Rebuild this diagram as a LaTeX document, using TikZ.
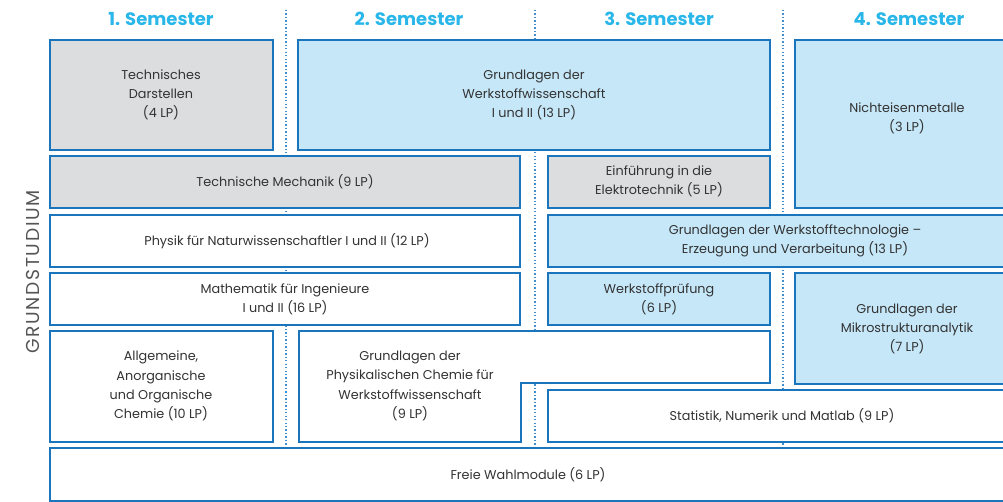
\documentclass[tikz,border=0pt]{standalone}
\usepackage{fontspec}
\setmainfont{Poppins}
\usepackage{xcolor}
\definecolor{rahmen}{HTML}{1B75BC}
\definecolor{blaufill}{HTML}{C6E7F8}
\definecolor{graufill}{HTML}{DCDDDF}
\definecolor{kopf}{HTML}{29B6E8}
\definecolor{punkt}{HTML}{3E8FD1}
\definecolor{schrift}{HTML}{333333}
\definecolor{seite}{HTML}{555555}
\tikzset{
    modul/.style={
        draw=rahmen,
        line width=0.9pt
    },
    grau/.style={modul, fill=graufill},
    blau/.style={modul, fill=blaufill},
    weiss/.style={modul, fill=white},
    txt/.style={
        align=center,
        text=schrift,
        inner sep=0pt,
        font=\fontsize{9.6}{14.4}\selectfont
    },
    semester/.style={
        text=kopf,
        font=\bfseries\fontsize{13.5}{16}\selectfont
    },
    trenner/.style={
        draw=punkt,
        line width=0.8pt,
        dash pattern=on 1pt off 1.6pt
    }
}

\begin{document}
\begin{tikzpicture}[x=0.75pt,y=-0.75pt]
  \clip (0,0) rectangle (1003,502);

  % Semester-Trennlinien
  \foreach \x in {286,535,783}
    \draw[trenner] (\x,10) -- (\x,502);

  % Kopfzeile
  \node[semester] (s1) at (161,19) {1. Semester};
  \node[semester] (s2) at (409,19) {2. Semester};
  \node[semester] (s3) at (659,19) {3. Semester};
  \node[semester] (s4) at (909,19) {4. Semester};

  \node[rotate=90, text=seite, font=\addfontfeatures{LetterSpace=9}\fontsize{14}{16}\selectfont]
    (gs) at (33,272) {GRUNDSTUDIUM};

  % Zeile 1
  \draw[grau] (50,40) rectangle (273,150);
  \node[txt] (td) at (161,95) {Technisches\\Darstellen\\(4 LP)};
  \draw[blau] (298,40) rectangle (770,150);
  \node[txt] (gw) at (534,95) {Grundlagen der\\Werkstoffwissenschaft\\I und II (13 LP)};
  \draw[blau] (795,40) rectangle (1041,208);
  \node[txt] (nm) at (907,118) {Nichteisenmetalle\\(3 LP)};

  % Zeile 2
  \draw[grau] (50,156) rectangle (520,208);
  \node[txt] (tm) at (285,182) {Technische Mechanik (9 LP)};
  \draw[grau] (548,156) rectangle (770,208);
  \node[txt] (et) at (659,181) {Einführung in die\\Elektrotechnik (5 LP)};

  % Zeile 3
  \draw[weiss] (50,215) rectangle (520,267);
  \node[txt] (ph) at (287,241) {Physik für Naturwissenschaftler I und II (12 LP)};
  \draw[blau] (548,215) rectangle (1041,267);
  \node[txt] (wt) at (795,241) {Grundlagen der Werkstofftechnologie --\\Erzeugung und Verarbeitung (13 LP)};

  % Zeile 4
  \draw[weiss] (50,273) rectangle (520,325);
  \node[txt] (ma) at (285,299) {Mathematik für Ingenieure\\I und II (16 LP)};
  \draw[blau] (548,273) rectangle (770,325);
  \node[txt] (wp) at (659,299) {Werkstoffprüfung\\(6 LP)};
  \draw[blau] (795,273) rectangle (1041,384);
  \node[txt] (mk) at (907,329) {Grundlagen der\\Mikrostrukturanalytik\\(7 LP)};

  % Zeile 5
  \draw[weiss] (50,331) rectangle (273,442);
  \node[txt] (ch) at (161,386) {Allgemeine,\\Anorganische\\und Organische\\Chemie (10 LP)};
  \draw[weiss] (299,331) -| (770,383) -| (521,442) -- (299,442) -- cycle;
  \node[txt] (pc) at (410,386) {Grundlagen der\\Physikalischen Chemie für\\Werkstoffwissenschaft\\(9 LP)};
  \draw[weiss] (548,390) rectangle (1041,442);
  \node[txt] (sn) at (782,416) {Statistik, Numerik und Matlab (9 LP)};

  % Zeile 6
  \draw[weiss] (50,448) rectangle (1041,501);
  \node[txt] (fw) at (528,475) {Freie Wahlmodule (6 LP)};
\end{tikzpicture}
\end{document}
